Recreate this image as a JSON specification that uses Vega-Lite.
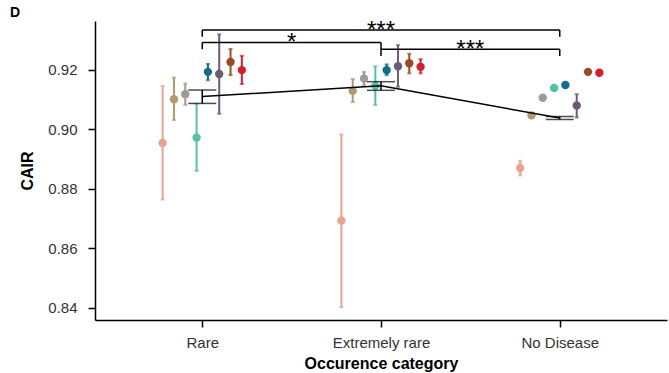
{
  "$schema": "https://vega.github.io/schema/vega-lite/v6.json",
  "width": 572,
  "height": 299,
  "autosize": {"type": "none"},
  "padding": {"left": 95, "top": 21, "right": 2, "bottom": 53},
  "background": "white",
  "title": {"text": "D", "anchor": "start", "frame": "group", "dx": -85, "dy": 15, "offset": 0, "baseline": "bottom", "font": "Liberation Sans", "fontSize": 14, "fontWeight": "bold", "color": "black"},
  "config": {
    "view": {"stroke": null},
    "font": "Liberation Sans",
    "axis": {"grid": false, "domainColor": "black", "domainWidth": 1.5, "tickColor": "black", "tickWidth": 1.5, "tickSize": 7, "labelFont": "Liberation Sans", "labelFontSize": 15, "labelColor": "#333333", "titleFont": "Liberation Sans", "titleFontSize": 16, "titleFontWeight": "bold", "titleColor": "black"}
  },
  "datasets": {
    "pts": [
      {"cat": "Rare", "grp": "g1", "v": 0.8954, "lo": 0.8764, "hi": 0.9146},
      {"cat": "Rare", "grp": "g2", "v": 0.9101, "lo": 0.9031, "hi": 0.9174},
      {"cat": "Rare", "grp": "g3", "v": 0.9118, "lo": 0.9082, "hi": 0.9154},
      {"cat": "Rare", "grp": "g4", "v": 0.8972, "lo": 0.886, "hi": 0.9085},
      {"cat": "Rare", "grp": "g5", "v": 0.9193, "lo": 0.9165, "hi": 0.922},
      {"cat": "Rare", "grp": "g6", "v": 0.9186, "lo": 0.9052, "hi": 0.9319},
      {"cat": "Rare", "grp": "g7", "v": 0.9226, "lo": 0.9182, "hi": 0.927},
      {"cat": "Rare", "grp": "g8", "v": 0.9199, "lo": 0.9152, "hi": 0.9247},
      {"cat": "Extremely rare", "grp": "g1", "v": 0.8693, "lo": 0.8402, "hi": 0.8983},
      {"cat": "Extremely rare", "grp": "g2", "v": 0.9129, "lo": 0.9092, "hi": 0.9169},
      {"cat": "Extremely rare", "grp": "g3", "v": 0.9171, "lo": 0.9148, "hi": 0.9193},
      {"cat": "Extremely rare", "grp": "g4", "v": 0.9146, "lo": 0.9081, "hi": 0.9212},
      {"cat": "Extremely rare", "grp": "g5", "v": 0.9199, "lo": 0.9182, "hi": 0.9218},
      {"cat": "Extremely rare", "grp": "g6", "v": 0.9212, "lo": 0.9143, "hi": 0.9283},
      {"cat": "Extremely rare", "grp": "g7", "v": 0.9222, "lo": 0.9188, "hi": 0.9254},
      {"cat": "Extremely rare", "grp": "g8", "v": 0.921, "lo": 0.9188, "hi": 0.9236},
      {"cat": "No Disease", "grp": "g1", "v": 0.887, "lo": 0.8845, "hi": 0.8894},
      {"cat": "No Disease", "grp": "g2", "v": 0.9047, "lo": 0.9045, "hi": 0.9049},
      {"cat": "No Disease", "grp": "g3", "v": 0.9106, "lo": 0.9104, "hi": 0.9108},
      {"cat": "No Disease", "grp": "g4", "v": 0.9139, "lo": 0.9137, "hi": 0.9141},
      {"cat": "No Disease", "grp": "g5", "v": 0.9149, "lo": 0.9147, "hi": 0.9151},
      {"cat": "No Disease", "grp": "g6", "v": 0.908, "lo": 0.904, "hi": 0.9118},
      {"cat": "No Disease", "grp": "g7", "v": 0.9193, "lo": 0.9191, "hi": 0.9195},
      {"cat": "No Disease", "grp": "g8", "v": 0.919, "lo": 0.9188, "hi": 0.9192}
    ],
    "means": [
      {"cat": "Rare", "m": 0.911, "lo": 0.9087, "hi": 0.9132},
      {"cat": "Extremely rare", "m": 0.9146, "lo": 0.9131, "hi": 0.916},
      {"cat": "No Disease", "m": 0.9038, "lo": 0.9033, "hi": 0.9043}
    ],
    "hbars": [
      {"x": 0, "x2": 2, "y": 0.9334},
      {"x": 0, "x2": 1, "y": 0.9292},
      {"x": 1, "x2": 2, "y": 0.9269}
    ],
    "vbars": [
      {"x": 0, "y": 0.9334, "y2": 0.9311},
      {"x": 2, "y": 0.9334, "y2": 0.9311},
      {"x": 0, "y": 0.9292, "y2": 0.9269},
      {"x": 1, "y": 0.9292, "y2": 0.9269},
      {"x": 1, "y": 0.9269, "y2": 0.9246},
      {"x": 2, "y": 0.9269, "y2": 0.9246}
    ],
    "stars": [
      {"x": 1, "y": 0.9334, "label": "***"},
      {"x": 0.5, "y": 0.9292, "label": "*"},
      {"x": 1.5, "y": 0.9269, "label": "***"}
    ]
  },
  "layer": [
    {
      "encoding": {
        "x": {"field": "cat", "type": "nominal", "sort": ["Rare", "Extremely rare", "No Disease"], "scale": {"type": "point", "padding": 0.6}, "axis": {"title": "Occurence category", "labelAngle": 0, "labelPadding": 8, "titlePadding": 5}}
      },
      "layer": [
        {
          "data": {"name": "pts"},
          "encoding": {
            "xOffset": {"field": "grp", "type": "nominal", "scale": {"type": "point", "padding": 0, "range": [-39.6, 39.6]}},
            "color": {"field": "grp", "type": "nominal", "legend": null, "scale": {"domain": ["g1", "g2", "g3", "g4", "g5", "g6", "g7", "g8"], "range": ["#E9A393", "#B8976A", "#A09A97", "#52C3A0", "#0F6E8C", "#6C5A7B", "#9C4A22", "#D61F2D"]}}
          },
          "layer": [
            {"mark": {"type": "rule", "strokeWidth": 2}, "encoding": {"y": {"field": "lo", "type": "quantitative"}, "y2": {"field": "hi"}}},
            {"mark": {"type": "tick", "size": 4, "thickness": 2, "orient": "horizontal"}, "encoding": {"y": {"field": "lo", "type": "quantitative"}}},
            {"mark": {"type": "tick", "size": 4, "thickness": 2, "orient": "horizontal"}, "encoding": {"y": {"field": "hi", "type": "quantitative"}}},
            {"mark": {"type": "point", "filled": true, "size": 70, "opacity": 1}, "encoding": {"y": {"field": "v", "type": "quantitative"}}}
          ]
        },
        {
          "data": {"name": "means"},
          "layer": [
            {"mark": {"type": "line", "color": "black", "strokeWidth": 1.5}, "encoding": {"y": {"field": "m", "type": "quantitative"}}},
            {"mark": {"type": "rule", "color": "black", "strokeWidth": 1.5}, "encoding": {"y": {"field": "lo", "type": "quantitative"}, "y2": {"field": "hi"}}},
            {"mark": {"type": "tick", "color": "black", "size": 28, "thickness": 1.5, "orient": "horizontal"}, "encoding": {"y": {"field": "lo", "type": "quantitative"}}},
            {"mark": {"type": "tick", "color": "black", "size": 28, "thickness": 1.5, "orient": "horizontal"}, "encoding": {"y": {"field": "hi", "type": "quantitative"}}}
          ]
        }
      ]
    },
    {
      "encoding": {
        "x": {"field": "x", "type": "quantitative", "scale": {"domain": [-0.6, 2.6], "nice": false, "zero": false}, "axis": null}
      },
      "layer": [
        {"data": {"name": "hbars"}, "mark": {"type": "rule", "color": "black", "strokeWidth": 1.5}, "encoding": {"x2": {"field": "x2"}, "y": {"field": "y", "type": "quantitative"}}},
        {"data": {"name": "vbars"}, "mark": {"type": "rule", "color": "black", "strokeWidth": 1.5}, "encoding": {"y": {"field": "y", "type": "quantitative"}, "y2": {"field": "y2"}}},
        {"data": {"name": "stars"}, "mark": {"type": "text", "color": "black", "fontSize": 24, "font": "Liberation Sans", "baseline": "alphabetic", "align": "center", "dy": 8}, "encoding": {"y": {"field": "y", "type": "quantitative"}, "text": {"field": "label"}}}
      ]
    }
  ],
  "encoding": {
    "y": {"type": "quantitative", "scale": {"domain": [0.8359, 0.9364], "nice": false, "zero": false}, "axis": {"title": "CAIR", "values": [0.84, 0.86, 0.88, 0.9, 0.92], "format": ".2f", "labelPadding": 11, "titlePadding": 12}}
  },
  "resolve": {"scale": {"x": "independent"}}
}
